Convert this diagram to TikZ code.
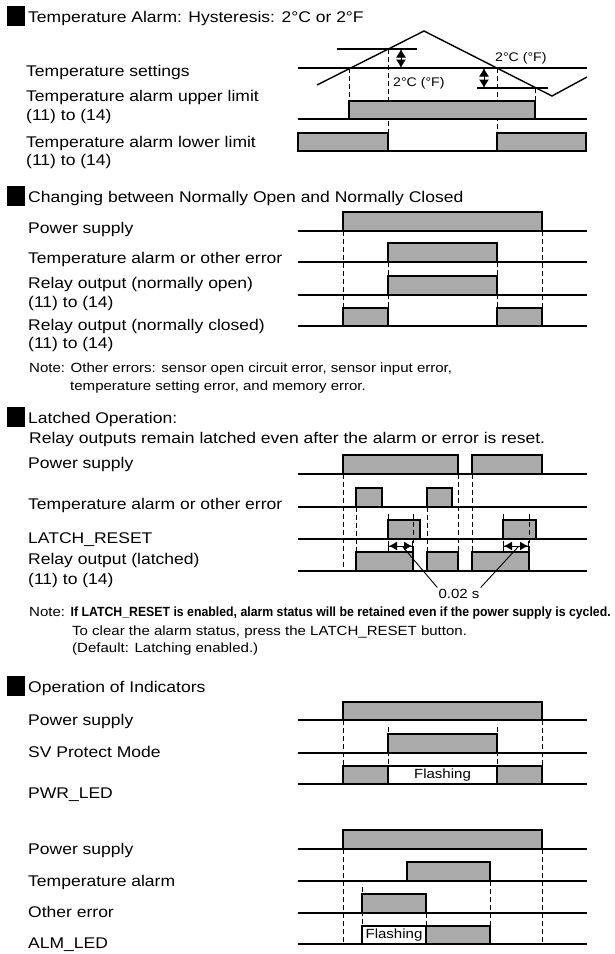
\documentclass[tikz,border=0pt]{standalone}
\usepackage{fontspec}
\setmainfont{Liberation Sans}[FakeStretch=1.13]
\usepackage{graphicx}
\usepackage{xcolor}
\usepackage{tikz}
\usetikzlibrary{arrows.meta,calc}
\definecolor{pulsegray}{RGB}{170,170,170}

\begin{document}
\begin{tikzpicture}[
	x=1pt, y=-1pt,
	lbl/.style={anchor=base west, inner sep=0pt, font=\fontsize{15.5}{18}\selectfont},
	notetxt/.style={anchor=base west, inner sep=0pt, font=\fontsize{13.3}{16}\selectfont},
	sig/.style={line width=1.6pt},
	pulse/.style={draw, line width=1.1pt, fill=pulsegray},
	flash/.style={draw, line width=1.1pt, fill=white, inner sep=0pt, minimum height=18pt, font=\fontsize{13.3}{16}\selectfont},
	guide/.style={line width=0.9pt, dash pattern=on 5pt off 3pt},
	hyst/.style={{Latex[length=8.5pt,width=10pt]}-{Latex[length=8.5pt,width=10pt]}, line width=1pt},
	gaparr/.style={{Bar[width=10pt]Latex[length=8pt,width=9pt]}-{Latex[length=8pt,width=9pt]Bar[width=10pt]}, line width=1pt}
]
\useasboundingbox (0,0) rectangle (615,954);

% section titles
\fill (7,6) rectangle (25,26);
\node[lbl] (ttlhyst) at (28,22) {Temperature Alarm: Hysteresis: 2°C or 2°F};
\fill (7,186) rectangle (25,206);
\node[lbl] (ttlnonc) at (28,202) {Changing between Normally Open and Normally Closed};
\fill (7,407) rectangle (25,427);
\node[lbl] (ttllatch) at (28,423) {Latched Operation:};
\fill (7,676) rectangle (25,696);
\node[lbl] (ttlind) at (28,692) {Operation of Indicators};

% row labels
\node[lbl] (lblset) at (26,76) {Temperature settings};
\node[lbl] (lblup) at (26,101) {Temperature alarm upper limit};
\node[lbl] (lblupb) at (26,120) {(11) to (14)};
\node[lbl] (lbllow) at (26,147) {Temperature alarm lower limit};
\node[lbl] (lbllowb) at (26,165) {(11) to (14)};

\node[lbl] (lblpwra) at (28,233) {Power supply};
\node[lbl] (lblerra) at (28,263) {Temperature alarm or other error};
\node[lbl] (lblno) at (28,288) {Relay output (normally open)};
\node[lbl] (lblnob) at (28,307) {(11) to (14)};
\node[lbl] (lblnc) at (28,330) {Relay output (normally closed)};
\node[lbl] (lblncb) at (28,348) {(11) to (14)};
\node[notetxt] (noteerr) at (29,372) {Note: Other errors: sensor open circuit error, sensor input error,};
\node[notetxt] (noteerrb) at (70,390) {temperature setting error, and memory error.};

\node[lbl] (lblkeep) at (29,443) {Relay outputs remain latched even after the alarm or error is reset.};
\node[lbl] (lblpwrb) at (28,468) {Power supply};
\node[lbl] (lblerrb) at (28,509) {Temperature alarm or other error};
\node[lbl] (lblreset) at (28,543) {LATCH\_RESET};
\node[lbl] (lblrly) at (28,564) {Relay output (latched)};
\node[lbl] (lblrlyb) at (28,584) {(11) to (14)};
\node[notetxt] (notelatch) at (29,616) {Note: \resizebox{540pt}{\height}{\bfseries If LATCH\_RESET is enabled, alarm status will be retained even if the power supply is cycled.}};
\node[notetxt] (notelatchb) at (72,635) {To clear the alarm status, press the LATCH\_RESET button.};
\node[notetxt] (notelatchc) at (72,652) {(Default: Latching enabled.)};

\node[lbl] (lblpwrc) at (28,725) {Power supply};
\node[lbl] (lblsv) at (28,757) {SV Protect Mode};
\node[lbl] (lblpled) at (28,798) {PWR\_LED};
\node[lbl] (lblpwrd) at (28,854) {Power supply};
\node[lbl] (lbltemp) at (28,886) {Temperature alarm};
\node[lbl] (lblother) at (28,917) {Other error};
\node[lbl] (lblaled) at (28,948) {ALM\_LED};

% dashed guides behind the pulses
\foreach \x/\ya/\yb in {349/68/119, 388/49/133, 497/68/133, 535/88/119,
	343/231/308, 542/231/308, 388/262/308, 497/262/308,
	343/474/571, 356/507/552, 427/507/552, 458/474/571, 472/474/552, 388/514/520, 503/514/520,
	343/720/766, 542/720/766, 388/727/766, 497/727/766,
	343/849/944, 542/849/944, 362/887/926, 426/913/926, 490/881/926}
	\draw[guide] (\x,\ya) -- (\x,\yb);

% pulses: left, right, low, high
\foreach \xa/\xb/\ylo/\yhi in {349/535/119/101, 298/388/151/133, 497/586/151/133,
	343/542/231/212, 388/497/262/243, 388/497/295/276, 343/388/326/308, 497/542/326/308,
	343/458/474/455, 472/542/474/455, 356/382/507/488, 427/452/507/488,
	388/420/539/520, 503/536/539/520, 356/413/571/552, 427/458/571/552, 472/529/571/552,
	343/542/720/702, 388/497/753/734, 343/388/784/766, 497/542/784/766,
	343/542/849/830, 407/490/881/862, 362/426/913/894, 426/490/944/926}
	\draw[pulse] (\xa,\ylo) rectangle (\xb,\yhi);
\node[flash, minimum width=109pt] (pwrflash) at (442.5,775) {Flashing};
\node[flash, minimum width=64pt] (almflash) at (394,935) {Flashing};

% base lines
\foreach \y in {119,151,231,262,295,326,474,507,539,571,720,753,784,849,881,913,944}
	\draw[sig] (298,\y) -- (587,\y);

% hysteresis
\draw[sig] (298,68) -- (587,68);
\draw[line width=1.4pt] (317,85) -- (424,31) -- (552,96) -- (587,77);
\draw[sig] (337,49) -- (417,49);
\draw[sig] (477,88) -- (548,88);
\draw[hyst] (401,49) -- (401,68);
\draw[hyst] (484,68) -- (484,88);
\node[notetxt, font=\fontsize{12.5}{14}\selectfont] (hysa) at (393,86) {2°C (°F)};
\node[notetxt, font=\fontsize{12.5}{14}\selectfont] (hysb) at (495,61) {2°C (°F)};

% latch reset delay
\draw[guide] (413,514) -- (413,552);
\draw[guide] (529,514) -- (529,552);
\draw[gaparr] (388,546) -- (413,546);
\draw[gaparr] (503,546) -- (529,546);
\coordinate (leada) at (403,547);
\coordinate (leadb) at (518,547);
\node[notetxt, anchor=base, inner sep=1pt] (gaplbl) at (459,598) {0.02 s};
\draw[line width=0.9pt] (leada) -- (gaplbl.north west);
\draw[line width=0.9pt] (leadb) -- (gaplbl.north east);
\end{tikzpicture}
\end{document}
